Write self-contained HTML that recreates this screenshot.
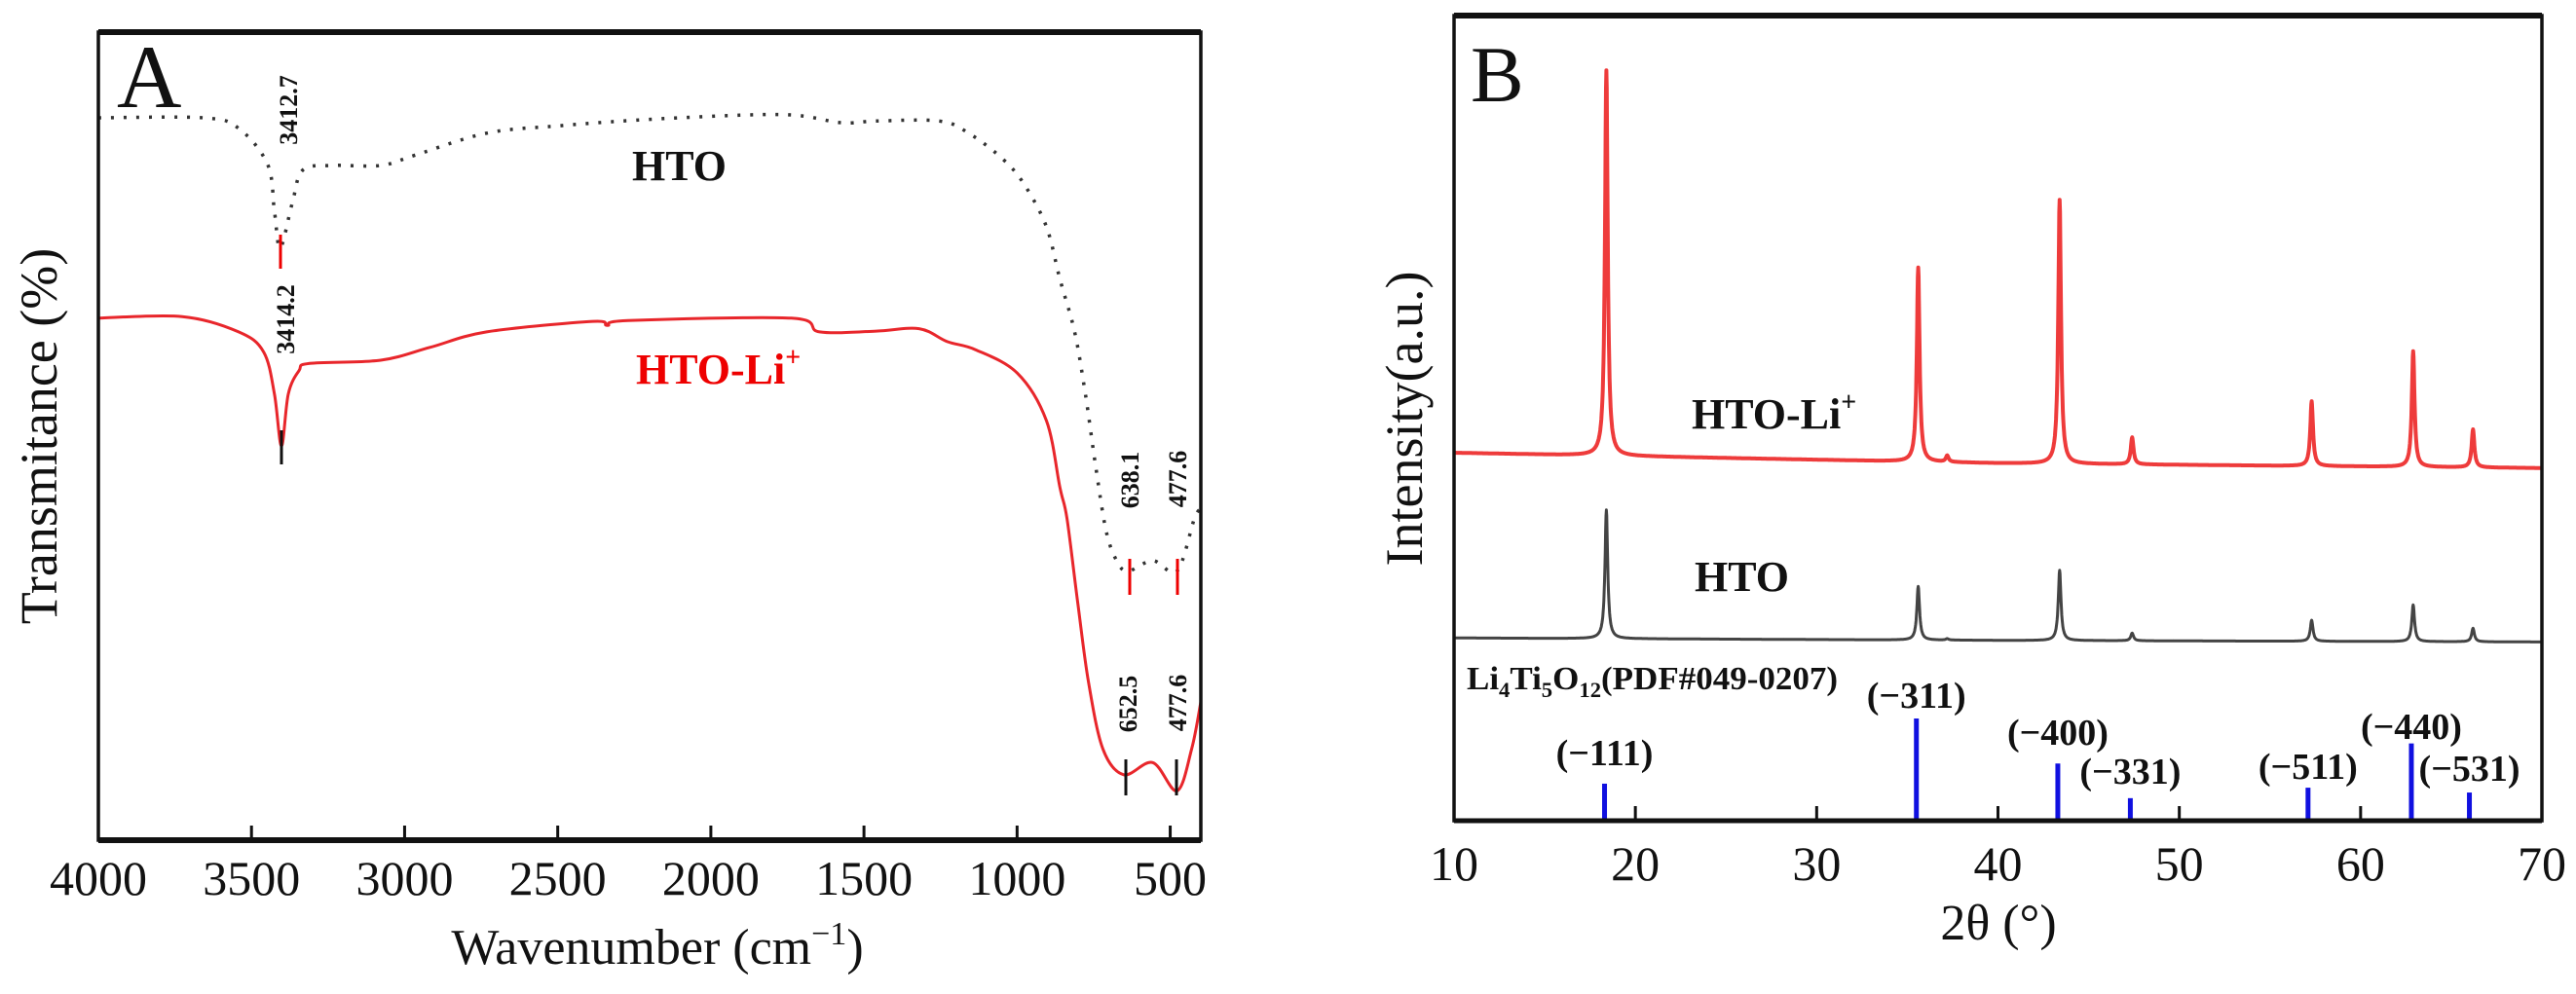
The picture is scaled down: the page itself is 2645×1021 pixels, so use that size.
<!DOCTYPE html>
<html><head><meta charset="utf-8"><style>
html,body{margin:0;padding:0;background:#fff;}
svg{display:block;font-family:"Liberation Serif",serif;}
</style></head><body>
<svg id="fig" width="2645" height="1021" viewBox="0 0 2645 1021" xmlns="http://www.w3.org/2000/svg">
<g id="pa"></g>
<g id="pb"></g>
</svg>
<script>
// ---- Panel A data (FTIR) ----
const htoWave = [4000,3657,3542,3447,3425,3406,3367,3333,3240,3078,2964,2732,2500,2153,1762,1575,1460,1254,1158,1044,974,904,860,812,777,745,710,675,638,557,478,421,400];
const htoT    = [89.4,89.4,88.1,83.6,77.8,73.3,78.8,82.9,83.5,83.5,84.8,87.5,88.4,89.3,89.8,88.8,89.0,89.0,87.5,84.2,81.0,75.9,69.4,62.9,55.2,46.7,38.4,34.6,33.3,34.6,33.3,39.8,41.0];
const liWave  = [4000,3726,3542,3460,3425,3402,3380,3345,3310,3078,2916,2732,2385,2338,2271,1737,1645,1460,1320,1228,1136,999,904,860,837,802,767,720,652,557,478,430,400];
const liT     = [64.6,64.8,62.9,60.4,55.2,48.8,55.2,58.1,59.0,59.4,61.0,62.9,64.2,63.7,64.3,64.6,62.9,63.0,63.3,61.7,60.7,57.8,51.9,43.6,39.8,29.4,19.6,11.3,8.1,9.6,6.1,11.3,17.1];
const aTicks  = [4000,3500,3000,2500,2000,1500,1000,500];
// ---- Panel B data (XRD) ----
const peakPos   = [18.4,35.6,37.2,43.4,47.4,57.3,62.9,66.2];
const liPeakTop = [93.2,68.7,45.3,77.1,47.6,52.1,58.3,48.6];
const htoPeakTop= [38.6,29.1,22.6,31.1,23.3,24.9,26.8,23.9];
const liBase    = [45.7,44.4,43.8];   // at 10, 40, 70 deg
const htoBase   = [22.7,22.4,22.2];
const refPos    = [18.3,35.5,43.3,47.3,57.1,62.8,66.0];
const refInt    = [4.6,12.7,7.1,2.8,4.1,9.6,3.5];
const refLabels = ["(\u2212111)","(\u2212311)","(\u2212400)","(\u2212331)","(\u2212511)","(\u2212440)","(\u2212531)"];
const refLabelY = [773,714,752,792,787,746,789];
const bTicks    = [10,20,30,40,50,60,70];

const NS="http://www.w3.org/2000/svg";
function mk(parent,tag,attrs,text){const e=document.createElementNS(NS,tag);for(const k in attrs)e.setAttribute(k,attrs[k]);if(text!==undefined)e.textContent=text;parent.appendChild(e);return e;}
function smoothPath(P){let d='M'+P[0][0].toFixed(1)+','+P[0][1].toFixed(1);
 for(let i=0;i<P.length-1;i++){const p0=P[Math.max(0,i-1)],p1=P[i],p2=P[i+1],p3=P[Math.min(P.length-1,i+2)];
  const c1=[p1[0]+(p2[0]-p0[0])/6,p1[1]+(p2[1]-p0[1])/6],c2=[p2[0]-(p3[0]-p1[0])/6,p2[1]-(p3[1]-p1[1])/6];
  d+=' C'+c1[0].toFixed(1)+','+c1[1].toFixed(1)+' '+c2[0].toFixed(1)+','+c2[1].toFixed(1)+' '+p2[0].toFixed(1)+','+p2[1].toFixed(1);}
 return d;}

// ---------- Panel A ----------
const pa=document.getElementById('pa');
const A={l:101,r:1233,t:33,b:863};
const ax=w=>A.l+(4000-w)*(A.r-A.l)/3600;
const ay=v=>A.b-v*(A.b-A.t)/100;
let e;
e=mk(pa,'path',{d:smoothPath(htoWave.map((w,i)=>[ax(w),ay(htoT[i])])),fill:'none',stroke:'#333','stroke-width':3.5,'stroke-dasharray':'3 10'});


e=mk(pa,'path',{d:smoothPath(liWave.map((w,i)=>[ax(w),ay(liT[i])])),fill:'none',stroke:'#e8262b','stroke-width':3});


const marks=[[288,241,276,'#e00'],[289,442,477,'#111'],[1160,574,611,'#e00'],[1209,574,611,'#e00'],[1156,780,817,'#111'],[1208,780,817,'#111']];
marks.forEach(m=>{e=mk(pa,'line',{x1:m[0],x2:m[0],y1:m[1],y2:m[2],stroke:m[3],'stroke-width':3});

});
const plab=[["3412.7",296,113],["3414.2",293,328],["638.1",1160,493],["477.6",1209,492],["652.5",1158,723],["477.6",1209,722]];
plab.forEach(p=>{e=mk(pa,'text',{x:0,y:0,transform:`translate(${p[1]+9},${p[2]}) rotate(-90)`,'text-anchor':'middle','font-size':26,'font-weight':'bold',fill:'#111'},p[0]);

});
e=mk(pa,'rect',{x:A.l,y:A.t,width:A.r-A.l,height:A.b-A.t,fill:'none',stroke:'#111','stroke-width':3.5});


e=mk(pa,'line',{x1:A.l,x2:A.r,y1:A.t,y2:A.t,stroke:'#111','stroke-width':6});


e=mk(pa,'line',{x1:A.l,x2:A.r,y1:A.b,y2:A.b,stroke:'#111','stroke-width':6});


aTicks.forEach(t=>{const x=ax(t);
 e=mk(pa,'line',{x1:x,x2:x,y1:A.b,y2:A.b-15,stroke:'#111','stroke-width':3});
 
 
 e=mk(pa,'text',{x:x,y:919,'text-anchor':'middle','font-size':50,fill:'#111'},t);
 
 });
e=mk(pa,'text',{x:675,y:990,'text-anchor':'middle','font-size':52,fill:'#111'});


e.innerHTML='Wavenumber (cm<tspan dy="-20" font-size="34">\u22121</tspan><tspan dy="20">)</tspan>';
e=mk(pa,'text',{x:0,y:0,transform:'translate(58,448) rotate(-90)','text-anchor':'middle','font-size':54,fill:'#111'},'Transmitance (%)');


e=mk(pa,'text',{x:120,y:110,'font-size':92,fill:'#111'},'A');


e=mk(pa,'text',{x:649,y:185,'font-size':44,'font-weight':'bold',fill:'#111'},'HTO');


e=mk(pa,'text',{x:653,y:394,'font-size':44,'font-weight':'bold',fill:'#e00'});


e.innerHTML='HTO-Li<tspan dy="-18" font-size="28">+</tspan>';

// ---------- Panel B ----------
const pb=document.getElementById('pb');
const B={l:1493,r:2610,t:16,b:843};
const bx=d=>B.l+(d-10)*(B.r-B.l)/60;
const by=v=>B.b-v*(B.b-B.t)/100;
function baseAt(arr,d){return d<=40?arr[0]+(arr[1]-arr[0])*(d-10)/30:arr[1]+(arr[2]-arr[1])*(d-40)/30;}
function pattern(base,tops){const out=[];for(let d=10;d<=70.0001;d+=0.02){let v=baseAt(base,d);
 peakPos.forEach((p,i)=>{const h=tops[i]-baseAt(base,p);const g=0.09;v+=h*(g*g)/((d-p)*(d-p)+g*g);});
 out.push(bx(d).toFixed(1)+','+by(v).toFixed(1));}return out.join(' ');}
e=mk(pb,'polyline',{points:pattern(liBase,liPeakTop),fill:'none',stroke:'#ee3b3b','stroke-width':4,'stroke-linejoin':'round'});


e=mk(pb,'polyline',{points:pattern(htoBase,htoPeakTop),fill:'none',stroke:'#444','stroke-width':3,'stroke-linejoin':'round'});


refPos.forEach((p,i)=>{
 e=mk(pb,'line',{x1:bx(p),x2:bx(p),y1:B.b,y2:by(refInt[i]),stroke:'#1010e0','stroke-width':5});
 
 
 e=mk(pb,'text',{x:bx(p),y:refLabelY[i]+13,'text-anchor':'middle','font-size':38,'font-weight':'bold',fill:'#111'},refLabels[i]);
 
 });
e=mk(pb,'rect',{x:B.l,y:B.t,width:B.r-B.l,height:B.b-B.t,fill:'none',stroke:'#111','stroke-width':3.5});


e=mk(pb,'line',{x1:B.l,x2:B.r,y1:B.t,y2:B.t,stroke:'#111','stroke-width':6});


e=mk(pb,'line',{x1:B.l,x2:B.r,y1:B.b,y2:B.b,stroke:'#111','stroke-width':5});


bTicks.forEach(t=>{const x=bx(t);
 e=mk(pb,'line',{x1:x,x2:x,y1:B.b,y2:B.b-15,stroke:'#111','stroke-width':3});
 
 
 e=mk(pb,'text',{x:x,y:904,'text-anchor':'middle','font-size':50,fill:'#111'},t);
 
 });
e=mk(pb,'text',{x:2052,y:965,'text-anchor':'middle','font-size':52,fill:'#111'},'2\u03b8 (\u00b0)');


e=mk(pb,'text',{x:0,y:0,transform:'translate(1460,430) rotate(-90)','text-anchor':'middle','font-size':54,fill:'#111'},'Intensity(a.u.)');


e=mk(pb,'text',{x:1510,y:104,'font-size':82,fill:'#111'},'B');


e=mk(pb,'text',{x:1737,y:440,'font-size':44,'font-weight':'bold',fill:'#111'});


e.innerHTML='HTO-Li<tspan dy="-18" font-size="28">+</tspan>';
e=mk(pb,'text',{x:1740,y:607,'font-size':44,'font-weight':'bold',fill:'#111'},'HTO');


e=mk(pb,'text',{x:1506,y:708,'font-size':34,'font-weight':'bold',fill:'#111',textLength:381,lengthAdjust:'spacingAndGlyphs'});


e.innerHTML='Li<tspan dy="8" font-size="22">4</tspan><tspan dy="-8">Ti</tspan><tspan dy="8" font-size="22">5</tspan><tspan dy="-8">O</tspan><tspan dy="8" font-size="22">12</tspan><tspan dy="-8">(PDF#049-0207)</tspan>';
</script>
</body></html>
